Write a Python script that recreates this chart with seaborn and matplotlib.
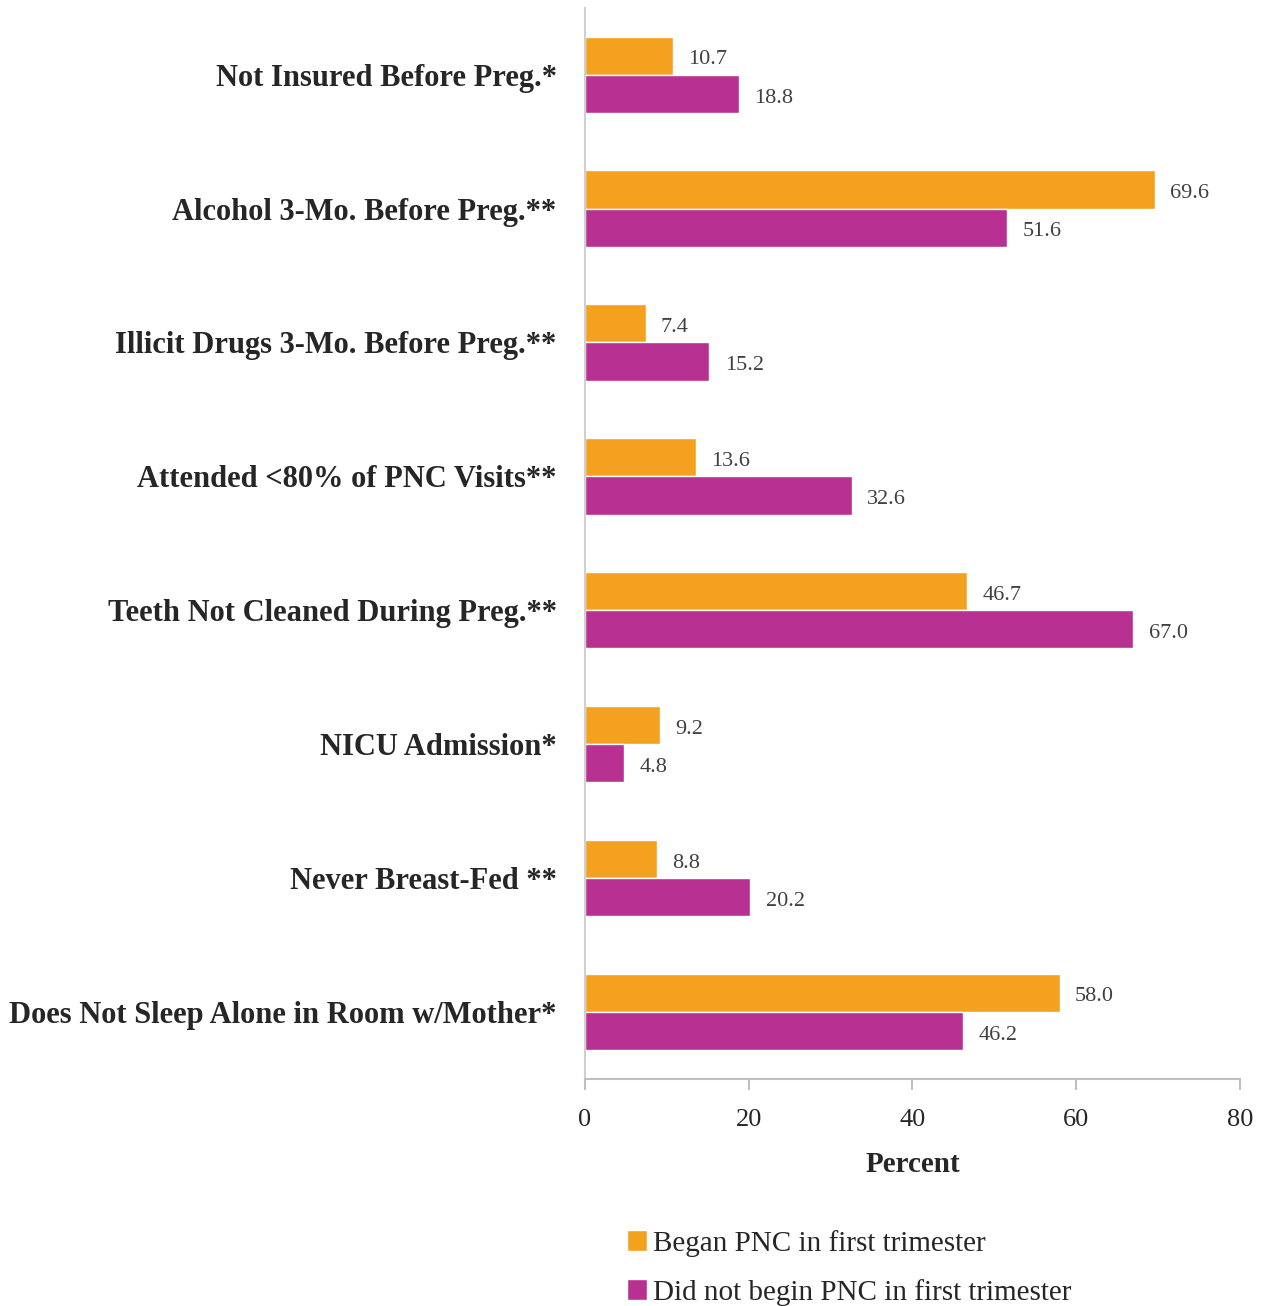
import matplotlib
matplotlib.use("Agg")
import matplotlib.pyplot as plt
import seaborn as sns
import pandas as pd

categories = [
    "Not Insured Before Preg.*",
    "Alcohol 3-Mo. Before Preg.**",
    "Illicit Drugs 3-Mo. Before Preg.**",
    "Attended <80% of PNC Visits**",
    "Teeth Not Cleaned During Preg.**",
    "NICU Admission*",
    "Never Breast-Fed **",
    "Does Not Sleep Alone in Room w/Mother*",
]
began_first = [10.7, 69.6, 7.4, 13.6, 46.7, 9.2, 8.8, 58.0]
not_began_first = [18.8, 51.6, 15.2, 32.6, 67.0, 4.8, 20.2, 46.2]
series_names = ["Began PNC in first trimester", "Did not begin PNC in first trimester"]
colors = ["#F4A11F", "#B83192"]

df = pd.DataFrame({
    "Category": categories * 2,
    "Percent": began_first + not_began_first,
    "Group": [series_names[0]] * len(categories) + [series_names[1]] * len(categories),
})

sns.set_style("white")
plt.rcParams["font.family"] = ["Liberation Serif", "DejaVu Serif"]

fig = plt.figure(figsize=(12.69, 13.06), dpi=100)
ax = fig.add_axes([0.461, 0.174, 0.516, 0.820])

sns.barplot(data=df, y="Category", x="Percent", hue="Group", orient="h",
            palette=colors, width=0.57, gap=0, ax=ax, legend=True, saturation=1)

for cont in ax.containers:
    anns = ax.bar_label(cont, fmt="%.1f", padding=11, fontsize=16, color="#404040")
    for ann in anns:
        dx, dy = ann.xyann
        ann.xyann = (dx, dy - 3)

ax.set_xlim(0, 80)
ax.set_ylim(7.5, -0.5)
ax.set_xticks([0, 20, 40, 60, 80])
ax.tick_params(axis="x", labelsize=19, bottom=True, length=8, color="#BFBFBF",
               width=1.5, pad=14)
ax.tick_params(axis="y", left=False, labelsize=22, pad=17)
for lab in ax.get_yticklabels():
    lab.set_fontweight("bold")
ax.set_ylabel("")
ax.set_xlabel("Percent", fontsize=21, fontweight="bold", labelpad=14)

for side in ["top", "right"]:
    ax.spines[side].set_visible(False)
for side in ["left", "bottom"]:
    ax.spines[side].set_color("#D0D0D0")
    ax.spines[side].set_linewidth(1.5)
ax.spines["bottom"].set_color("#BFBFBF")

handles, labels = ax.get_legend_handles_labels()
ax.get_legend().remove()
fig.legend(handles, labels, loc="lower left", bbox_to_anchor=(0.4734, -0.0198),
           frameon=False, fontsize=21, handlelength=0.7, handleheight=0.7,
           handletextpad=0.2, labelspacing=0.75)

fig.savefig("out.png", dpi=100)
